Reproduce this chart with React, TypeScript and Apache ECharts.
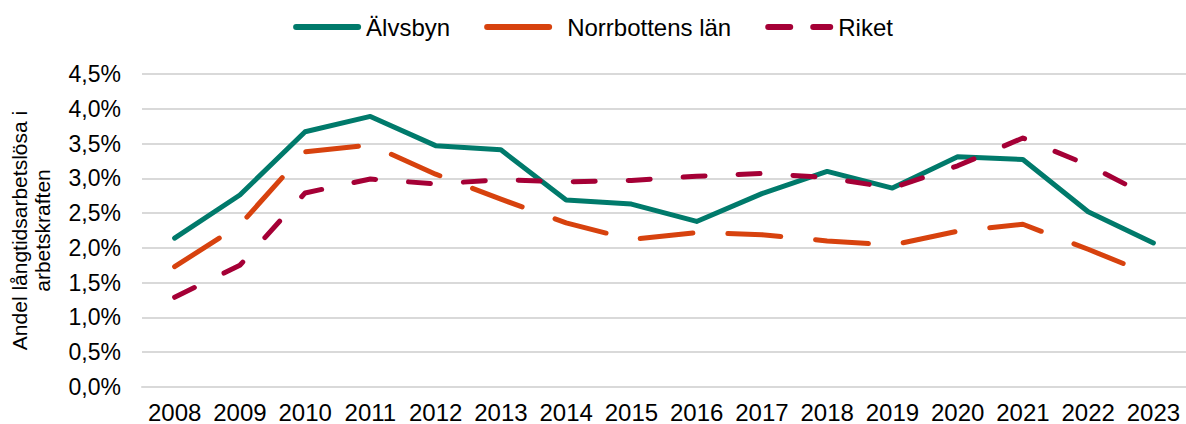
import React, { useEffect, useRef } from "react";
import * as echarts from "echarts";

const years = ["2008","2009","2010","2011","2012","2013","2014","2015","2016","2017","2018","2019","2020","2021","2022","2023"];
const alvsbyn = [2.14, 2.76, 3.67, 3.89, 3.47, 3.41, 2.69, 2.63, 2.38, 2.78, 3.10, 2.86, 3.31, 3.27, 2.52, 2.07];
const norrbotten = [1.73, 2.33, 3.38, 3.48, 3.06, 2.70, 2.36, 2.12, 2.22, 2.19, 2.10, 2.04, 2.24, 2.34, 1.98, 1.60];
const riket = [1.29, 1.75, 2.79, 2.99, 2.92, 2.98, 2.95, 2.97, 3.03, 3.07, 3.01, 2.86, 3.18, 3.58, 3.19, 2.71];

const FONT = "'Liberation Sans', Arial, sans-serif";
const SOLID_ICON = "path://M3,0H65A3,3 0 0 1 65,6H3A3,3 0 0 1 3,0Z";
const DASH_ICON = "path://M3,0H25A3,3 0 0 1 25,6H3A3,3 0 0 1 3,0Z M48,0H65A3,3 0 0 1 65,6H48A3,3 0 0 1 48,0Z";

export default function App() {
  const ref = useRef<HTMLDivElement>(null);
  useEffect(() => {
    if (!ref.current) return;
    const chart = echarts.init(ref.current, null, { renderer: "svg" });
    chart.setOption({
      animation: false,
      textStyle: { fontFamily: FONT },
      legend: {
        top: 10,
        left: "center",
        itemWidth: 68,
        itemHeight: 6,
        itemGap: 34,
        textStyle: { fontSize: 24, color: "#000", fontFamily: FONT },
        data: [
          { name: "Älvsbyn", icon: SOLID_ICON },
          { name: "Norrbottens län", icon: SOLID_ICON, textStyle: { padding: [0, 0, 0, 10] } },
          { name: "Riket", icon: DASH_ICON },
        ],
      },
      grid: { left: 138, width: 1051, top: 74, bottom: 37 },
      xAxis: {
        type: "category",
        data: years,
        boundaryGap: true,
        axisLine: { lineStyle: { color: "#d9d9d9", width: 2 } },
        axisTick: { show: false },
        axisLabel: { color: "#000", fontSize: 24, margin: 13, interval: 0, fontFamily: FONT },
      },
      yAxis: {
        type: "value",
        min: 0,
        max: 4.5,
        interval: 0.5,
        name: "Andel långtidsarbetslösa i\narbetskraften",
        nameLocation: "middle",
        nameRotate: 90,
        nameGap: 88,
        nameTextStyle: { fontSize: 21, color: "#000", lineHeight: 23, fontFamily: FONT },
        axisLine: { show: false },
        axisTick: { show: false },
        splitLine: { lineStyle: { color: "#d9d9d9", width: 2 } },
        axisLabel: {
          color: "#000",
          fontSize: 23,
          margin: 21,
          fontFamily: FONT,
          formatter: (v: number) => v.toFixed(1).replace(".", ",") + "%",
        },
      },
      series: [
        {
          name: "Älvsbyn",
          type: "line",
          data: alvsbyn,
          symbol: "none",
          color: "#007a6b",
          lineStyle: { width: 5, color: "#007a6b", cap: "round", join: "round" },
          z: 3,
        },
        {
          name: "Norrbottens län",
          type: "line",
          data: norrbotten,
          symbol: "none",
          color: "#d7420e",
          lineStyle: { width: 5, color: "#d7420e", type: [53, 35], cap: "round", join: "round" },
          z: 2,
        },
        {
          name: "Riket",
          type: "line",
          data: riket,
          symbol: "none",
          color: "#a50036",
          lineStyle: { width: 5, color: "#a50036", type: [22, 33], cap: "round", join: "round" },
          z: 4,
        },
      ],
    });
    return () => chart.dispose();
  }, []);
  return (
    <div
      ref={ref}
      style={{ position: "absolute", left: 0, top: 0, width: 1186, height: 424, background: "#fff" }}
    />
  );
}
